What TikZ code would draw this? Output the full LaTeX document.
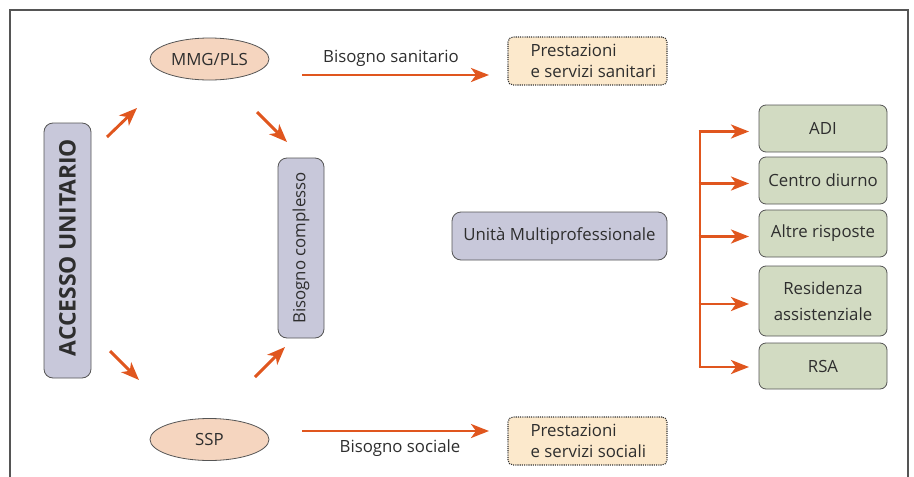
\documentclass[tikz,border=0pt]{standalone}
\usepackage{fontspec}
\setmainfont{Open Sans}
\usetikzlibrary{arrows.meta,shapes.geometric}
\definecolor{arr}{HTML}{E0561E}
\definecolor{lav}{HTML}{C8C8DA}
\definecolor{peach}{HTML}{F5D5BF}
\definecolor{cream}{HTML}{FCE9CC}
\definecolor{grn}{HTML}{D2DBC2}
\definecolor{txt}{HTML}{2E2E2E}
\definecolor{edge}{HTML}{555555}
\definecolor{dotedge}{HTML}{333333}
\tikzset{
  every node/.style={text=txt, font=\fontsize{16.8}{20}\selectfont},
  arrowline/.style={draw=arr, line width=2.9pt, -{Stealth[length=18pt,width=14pt,inset=5pt]}},
  lavbox/.style={draw=edge, line width=0.8pt, fill=lav, rounded corners=9pt, inner sep=0pt},
  oval/.style={ellipse, draw=edge, line width=0.8pt, fill=peach, inner sep=0pt},
  dotbox/.style={draw=dotedge, line width=1.1pt, dash pattern=on 1.1pt off 1.1pt, fill=cream, rounded corners=5pt, inner sep=0pt},
  grnbox/.style={draw=edge, line width=0.8pt, fill=grn, rounded corners=7pt, inner sep=0pt, align=center, minimum width=128pt},
}
\begin{document}
\begin{tikzpicture}[x=1pt,y=-1pt]
\useasboundingbox (0,0) rectangle (914,477);
\draw[edge, line width=1.4pt] (10,477) -- (10,10) -- (908,10) -- (908,477);

\node[lavbox, minimum width=47pt, minimum height=255pt] (acc) at (67.5,250.5) {};
\node[rotate=90, font=\fontsize{22.8}{26}\selectfont\bfseries] (acct) at (67.5,247.5) {ACCESSO UNITARIO};

\node[oval, minimum width=119pt, minimum height=42pt] (mmg) at (209.5,59) {MMG/PLS};
\node[oval, minimum width=119pt, minimum height=42pt] (ssp) at (209.5,439.5) {SSP};

\node[lavbox, minimum width=46pt, minimum height=180pt] (bc) at (301,248) {};
\node[rotate=90] (bct) at (bc.center) {Bisogno complesso};

\node[lavbox, minimum width=215pt, minimum height=48pt] (um) at (559.5,236) {Unità Multiprofessionale};

\node[dotbox, minimum width=159pt, minimum height=48pt] (ps) at (587.5,61) {};
\node[align=left, anchor=west, font=\fontsize{16.8}{21.5}\selectfont] (pst) at (527,61) {Prestazioni\\e servizi sanitari};
\node[dotbox, minimum width=159pt, minimum height=48pt] (pso) at (587.5,441) {};
\node[align=left, anchor=west, font=\fontsize{16.8}{21.5}\selectfont] (psot) at (527,441) {Prestazioni\\e servizi sociali};

\node[grnbox, minimum height=47pt] (adi) at (823,128.5) {ADI};
\node[grnbox, minimum height=47pt] (cd) at (823,180.5) {Centro diurno};
\node[grnbox, minimum height=47pt] (ar) at (823,233.5) {Altre risposte};
\node[grnbox, minimum height=70pt, font=\fontsize{16.8}{25.5}\selectfont] (rz) at (823,301) {Residenza\\assistenziale};
\node[grnbox, minimum height=46pt] (rsa) at (823,366) {RSA};

% diagonal arrows
\coordinate (a1s) at (107,137); \coordinate (a1e) at (137,108);
\coordinate (a2s) at (257,112); \coordinate (a2e) at (287,142);
\coordinate (a3s) at (110,351); \coordinate (a3e) at (139,380);
\coordinate (a4s) at (255,377); \coordinate (a4e) at (285,347);
\draw[arrowline] (a1s) -- (a1e);
\draw[arrowline] (a2s) -- (a2e);
\draw[arrowline] (a3s) -- (a3e);
\draw[arrowline] (a4s) -- (a4e);

% horizontal arrows
\coordinate (hs1) at (302,75); \coordinate (he1) at (489,75);
\draw[arrowline] (hs1) -- (he1);
\node (bs) at (391,58) {Bisogno sanitario};
\coordinate (hs2) at (302,431); \coordinate (he2) at (489,431);
\draw[arrowline] (hs2) -- (he2);
\node (bso) at (400,448) {Bisogno sociale};

% bracket
\coordinate (top) at (700,131.5);
\coordinate (bot) at (700,367);
\draw[draw=arr, line width=2.9pt, line cap=butt] ([yshift=1.45pt]top) -- ([yshift=-1.45pt]bot);
\foreach \n/\y in {adi/131.5, cd/183.5, ar/236.5, rz/304, rsa/367}{
  \draw[arrowline] (698.55,\y) -- (749,\y);
}
\end{tikzpicture}
\end{document}
